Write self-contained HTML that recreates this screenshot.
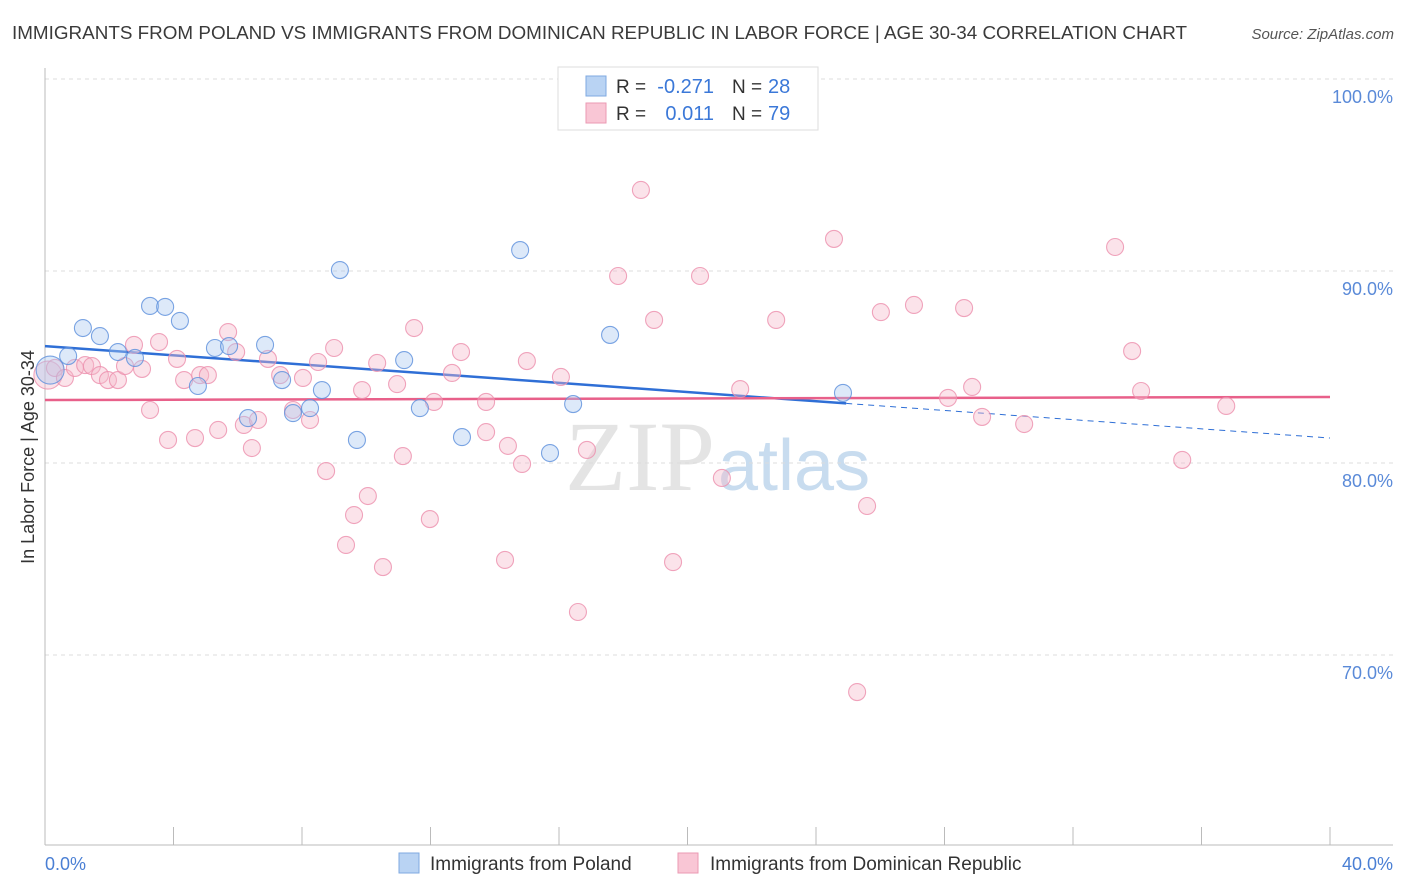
<!DOCTYPE html>
<html><head><meta charset="utf-8"><style>
body{margin:0;background:#fff;font-family:"Liberation Sans",sans-serif;}
svg{display:block}
</style></head><body>
<svg id="chart" width="1406" height="892" xmlns="http://www.w3.org/2000/svg">
<text x="12" y="39" font-size="18" fill="#3a3a3a" textLength="1175" lengthAdjust="spacingAndGlyphs">IMMIGRANTS FROM POLAND VS IMMIGRANTS FROM DOMINICAN REPUBLIC IN LABOR FORCE | AGE 30-34 CORRELATION CHART</text>
<text x="1394" y="39" font-size="15" font-style="italic" fill="#555" text-anchor="end">Source: ZipAtlas.com</text>
<text x="715" y="490" font-size="100" font-family="Liberation Serif,serif" fill="#e4e4e4" text-anchor="end">ZIP</text>
<text x="718" y="490" font-size="72" fill="#c8dcef">atlas</text>
<g id="grid"></g><g id="axes"></g><g id="lines"></g><g id="pts"></g>
<text transform="translate(34,457) rotate(-90)" font-size="18" fill="#333" text-anchor="middle">In Labor Force | Age 30-34</text>
<text x="45" y="870" font-size="18" fill="#4a7fd4">0.0%</text>
<text x="1393" y="870" font-size="18" fill="#4a7fd4" text-anchor="end">40.0%</text>
<g>
<rect x="558" y="67" width="260" height="63" fill="#fff" stroke="#ddd"/>
<rect x="586" y="76" width="20" height="20" fill="#b9d3f3" stroke="#7fa9e0"/>
<rect x="586" y="103" width="20" height="20" fill="#f9c6d5" stroke="#eb9ab3"/>
<text x="616" y="93" font-size="19" fill="#333">R =</text>
<text x="714" y="93" font-size="20" fill="#3b78d8" text-anchor="end">-0.271</text>
<text x="732" y="93" font-size="19" fill="#333">N =</text>
<text x="768" y="93" font-size="20" fill="#3b78d8">28</text>
<text x="616" y="120" font-size="19" fill="#333">R =</text>
<text x="714" y="120" font-size="20" fill="#3b78d8" text-anchor="end">0.011</text>
<text x="732" y="120" font-size="19" fill="#333">N =</text>
<text x="768" y="120" font-size="20" fill="#3b78d8">79</text>
</g>
<g>
<rect x="399" y="853" width="20" height="20" fill="#b9d3f3" stroke="#7fa9e0"/>
<text x="430" y="870" font-size="19" fill="#333">Immigrants from Poland</text>
<rect x="678" y="853" width="20" height="20" fill="#f9c6d5" stroke="#eb9ab3"/>
<text x="710" y="870" font-size="19" fill="#333">Immigrants from Dominican Republic</text>
</g>
</svg>
<script>
const blueX=[0.16,0.72,1.18,1.71,2.27,2.80,3.27,3.74,4.20,4.76,5.29,5.73,6.32,6.85,7.38,7.72,8.25,8.62,9.18,9.71,11.18,11.67,12.98,14.79,15.72,16.44,17.59,24.84];
const blueY=[84.84,85.57,87.03,86.61,85.78,85.47,88.18,88.13,87.40,84.01,85.99,86.09,82.34,86.15,84.32,82.60,82.86,83.80,90.05,81.20,85.36,82.86,81.35,91.09,80.52,83.07,86.67,83.65];
const pinkX=[0.09,0.31,0.62,0.93,1.25,1.46,1.71,1.96,2.27,2.49,2.77,3.02,3.27,3.55,3.83,4.11,4.33,4.67,4.83,5.07,5.39,5.70,5.95,6.19,6.44,6.63,6.94,7.32,7.72,8.03,8.25,8.50,8.75,9.00,9.37,9.62,9.87,10.05,10.34,10.52,10.96,11.14,11.49,11.98,12.11,12.67,12.95,13.73,13.73,14.32,14.41,14.85,15.00,16.06,16.59,16.87,17.84,18.55,18.96,19.55,20.39,21.07,21.64,22.76,24.56,25.28,25.59,26.02,27.05,28.11,28.61,28.86,29.17,30.48,33.31,33.84,34.12,35.40,36.77];
const pinkY=[84.58,84.95,84.43,84.95,85.10,85.05,84.58,84.32,84.32,85.05,86.15,84.90,82.76,86.30,81.20,85.42,84.32,81.30,84.58,84.58,81.72,86.82,85.78,81.98,80.78,82.24,85.42,84.58,82.76,84.43,82.24,85.26,79.58,85.99,75.73,77.29,83.80,78.28,85.21,74.58,84.11,80.36,87.03,77.08,83.18,84.69,85.78,83.18,81.61,74.95,80.89,79.95,85.31,84.48,72.24,80.68,89.74,94.22,87.45,74.84,89.74,79.22,83.85,87.45,91.67,68.07,77.76,87.86,88.23,83.39,88.07,83.96,82.40,82.03,91.25,85.83,83.75,80.16,82.97];
const yTicks=[100,90,80,70];
const xTicks=[0,4,8,12,16,20,24,28,32,36,40];
const blueTrend=[86.09,81.30];
const pinkTrend=[83.28,83.44];
const blueSolidEnd=24.94;
const NS="http://www.w3.org/2000/svg";
const sx=v=>45+v/40*1285, sy=v=>79+(100-v)*19.2;
function mk(tag,attrs,parent){const e=document.createElementNS(NS,tag);for(const k in attrs)e.setAttribute(k,attrs[k]);document.getElementById(parent).appendChild(e);return e;}
yTicks.forEach(t=>{
 const l=mk('line',{x1:45,x2:1393,y1:sy(t),y2:sy(t),stroke:'#ddd','stroke-dasharray':'4,4'},'grid');
 
 
 const tx=mk('text',{x:1393,y:sy(t)+24,'font-size':18,fill:'#5a8ad8','text-anchor':'end'},'grid');tx.textContent=t.toFixed(1)+'%';
 
 
});
const ax=mk('line',{x1:45,x2:1393,y1:845,y2:845,stroke:'#bbb'},'axes');


const ay=mk('line',{x1:45,x2:45,y1:68,y2:845,stroke:'#bbb'},'axes');


xTicks.forEach(t=>{const l=mk('line',{x1:sx(t),x2:sx(t),y1:827,y2:845,stroke:'#bbb'},'axes');
 
 });
function dot(x,y,r,fill,stroke,name){const c=mk('circle',{cx:sx(x),cy:sy(y),r:r,fill:fill,'fill-opacity':0.4,stroke:stroke,'stroke-width':1.1,'stroke-opacity':0.8},'pts');
 
 }
pinkX.forEach((x,i)=>dot(x,pinkY[i],i===0?14:8.5,'#f6b8cb','#ec8fac','point-dominican'));
blueX.forEach((x,i)=>dot(x,blueY[i],i===0?14:8.5,'#aac8ef','#5b8fdc','point-poland'));
const by=x=>blueTrend[0]+(blueTrend[1]-blueTrend[0])*x/40, py=x=>pinkTrend[0]+(pinkTrend[1]-pinkTrend[0])*x/40;
const b1=mk('line',{x1:sx(0),y1:sy(by(0)),x2:sx(blueSolidEnd),y2:sy(by(blueSolidEnd)),stroke:'#2f6fd6','stroke-width':2.5},'lines');


const b2=mk('line',{x1:sx(blueSolidEnd),y1:sy(by(blueSolidEnd)),x2:sx(40),y2:sy(by(40)),stroke:'#2f6fd6','stroke-width':1,'stroke-dasharray':'6,5'},'lines');


const p1=mk('line',{x1:sx(0),y1:sy(py(0)),x2:sx(40),y2:sy(py(40)),stroke:'#e8608a','stroke-width':2.5},'lines');


</script>
</body></html>
